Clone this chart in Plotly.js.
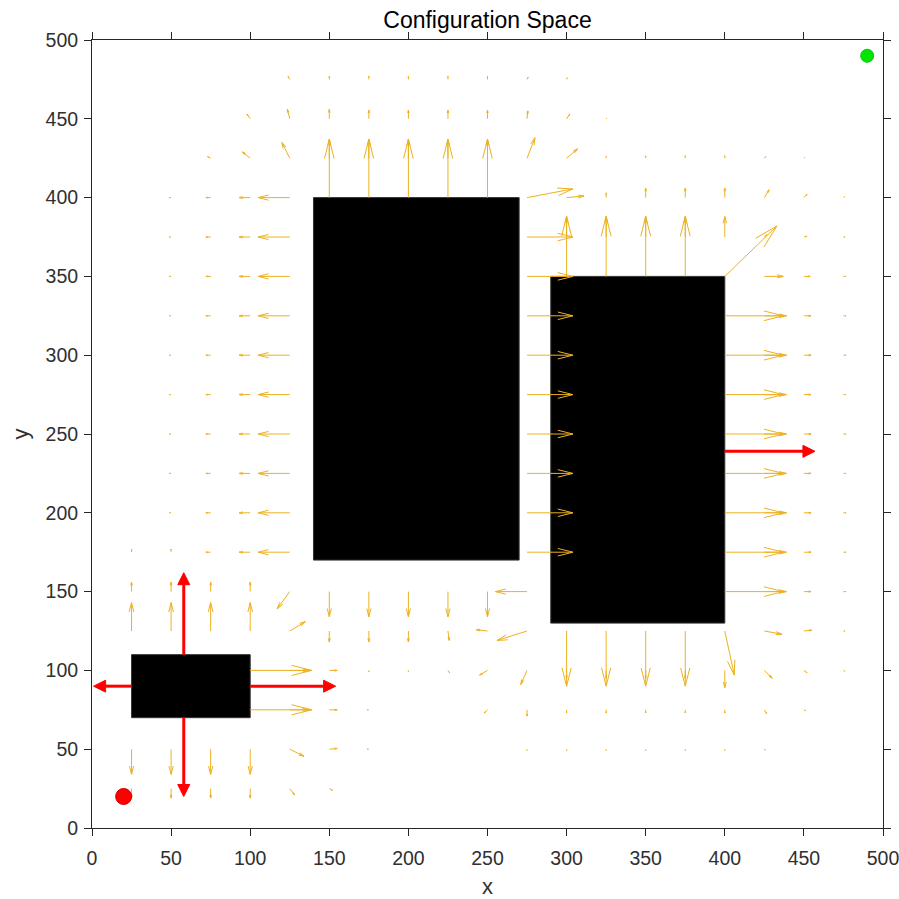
<!DOCTYPE html>
<html><head><meta charset="utf-8">
<script src="https://cdn.plot.ly/plotly-3.0.1.min.js"></script>
<style>html,body{margin:0;padding:0;background:#fff;}#chart{width:899px;height:899px;}</style>
</head><body><div id="chart"></div>
<script>
// ---- quiver field: [x, y, u, v] ----
const fieldLeftOfBlock2 = [
 [50,400,-1,0],[75,400,-3,0],[100,400,-7,0],[125,400,-20,0],
 [50,375,-1,0],[75,375,-3,0],[100,375,-7,0],[125,375,-20,0],
 [50,350,-1,0],[75,350,-3,0],[100,350,-7,0],[125,350,-20,0],
 [50,325,-1,0],[75,325,-3,0],[100,325,-7,0],[125,325,-20,0],
 [50,300,-1,0],[75,300,-3,0],[100,300,-7,0],[125,300,-20,0],
 [50,275,-1,0],[75,275,-3,0],[100,275,-7,0],[125,275,-20,0],
 [50,250,-1,0],[75,250,-3,0],[100,250,-7,0],[125,250,-20,0],
 [50,225,-1,0],[75,225,-3,0],[100,225,-7,0],[125,225,-20,0],
 [50,200,-1,0],[75,200,-3,0],[100,200,-7,0],[125,200,-20,0],
 [25,175,0,2],[50,175,0,2],[75,175,-3,0],[100,175,-7,0],[125,175,-20,0]
];
const fieldAboveBlock2 = [
 [150,400,0,37],[175,400,0,37],[200,400,0,37],[225,400,0,37],[250,400,0,37],
 [150,425,0,12],[175,425,0,12],[200,425,0,12],[225,425,0,12],[250,425,0,12],
 [150,450,0,6],[175,450,0,5.5],[200,450,0,5.5],[225,450,0,5.5],[250,450,0,5.5],
 [150,475,0,2],[175,475,0,2],[200,475,0,2],[225,475,0,2],[250,475,0,2],
 [75,425,-2,1],[100,425,-5,4],[125,425,-5,10],
 [100,450,-2,3],[125,450,-1.5,6],[125,475,-1,2],
 [275,400,29,5.5],[275,425,5,13],[275,450,0.5,5],[275,475,0.8,1.5],
 [300,400,11,1],[300,425,7,6],[300,450,2,3],[300,475,0.5,1],
 [325,400,0,3],[325,425,0,1.2],[325,450,0.5,0.5]
];
const fieldBetweenBlocks = [
 [275,375,29,0],[275,350,29,0],[275,325,29,0],[275,300,29,0],[275,275,29,0],
 [275,250,29,0],[275,225,29,0],[275,200,29,0],[275,175,29,0],[275,150,-20,0]
];
const fieldAboveBlock3 = [
 [300,350,0,38],[325,350,0,38],[350,350,0,38],[375,350,0,38],
 [300,375,0,13],[325,375,0,13],[350,375,0,13],[375,375,0,13],[400,375,0,13],
 [350,400,0,6],[375,400,0,6],[400,400,0,6],[425,400,3,5],[450,400,2,2],[475,400,0.8,0.8],
 [350,425,0,1.5],[375,425,0,1.5],[400,425,0,1.5],[425,425,0.8,1],[450,425,0.5,0.5],
 [425,375,1.5,1.5],[450,375,2,0.5],[475,375,1,0],
 [400,350,33,32],[425,350,12,0],[450,350,4,0],[475,350,1.5,0]
];
const fieldRightOfBlock3 = [
 [400,325,37,0],[425,325,14,0],[450,325,4.5,0],[475,325,1.5,0],
 [400,300,37,0],[425,300,14,0],[450,300,4.5,0],[475,300,1.5,0],
 [400,275,37,0],[425,275,14,0],[450,275,4.5,0],[475,275,1.5,0],
 [400,250,37,0],[425,250,14,0],[450,250,4.5,0],[475,250,1.5,0],
 [400,225,37,0],[425,225,14,0],[450,225,4.5,0],[475,225,1.5,0],
 [400,200,37,0],[425,200,14,0],[450,200,4.5,0],[475,200,1.5,0],
 [400,175,37,0],[425,175,14,0],[450,175,4.5,0],[475,175,1.5,0],
 [400,150,37,0],[425,150,14,0],[450,150,4.5,0],[475,150,1.5,0]
];
const fieldBelowBlock3 = [
 [300,125,0,-35],[325,125,0,-35],[350,125,0,-35],[375,125,0,-35],
 [300,100,0,-5],[325,100,0,-5],[350,100,0,-5],[375,100,0,-5],
 [400,125,6,-28],[400,100,0,-11],[425,125,11,-2],[450,125,5,0.5],[475,125,1,0],
 [425,100,5,-5],[450,100,2,-1.5],[475,100,0.8,-0.5],
 [300,75,0,-2],[325,75,0,-2],[350,75,0,-2],[375,75,0,-2],[400,75,0,-2],[425,75,1.5,-2.5],[450,75,1,-0.5],
 [275,50,0,-0.8],[300,50,0,-0.8],[325,50,0,-0.8],[350,50,0,-0.8],[375,50,0,-0.8],[400,50,0,-0.8],[425,50,0.8,-0.5]
];
const fieldBelowBlock2 = [
 [150,150,0,-16],[175,150,0,-16],[200,150,0,-16],[225,150,0,-16],[250,150,0,-16],
 [150,125,0,-7],[175,125,0,-7],[200,125,0,-7],[225,125,0.8,-6],[250,125,-7,0.8],[275,125,-19,-6],
 [175,100,0,-1],[200,100,0,-1],[225,100,1,-1.5],[250,100,-5,-3],[275,100,-4,-9],
 [175,75,-1,0],[250,75,-2,-2],[275,75,0,-4],
 [175,50,-1,0]
];
const fieldAroundBlock1 = [
 [25,150,0,6],[50,150,0,6],[75,150,0,6],[100,150,0,6],[125,150,-8,-11],
 [25,125,0,18],[50,125,0,18],[75,125,0,18],[100,125,0,18],[125,125,10,6],
 [100,100,39,0],[125,100,12,0],[150,100,5,0],
 [100,75,39,0],[125,75,12,0],[150,75,5,0],
 [25,50,0,-16],[50,50,0,-16],[75,50,0,-16],[100,50,0,-16],[125,50,9,-4.5],[150,50,5,0.5],
 [25,25,0,-6],[50,25,0,-6],[75,25,0,-6],[100,25,0,-6],[125,25,3,-4],[150,25,2,-1]
];

// ---- obstacles (rectangles) ----
const obsX0 = [25, 140, 290];
const obsX1 = [100, 270, 400];
const obsY0 = [70, 170, 130];
const obsY1 = [110, 400, 350];

// ---- red force arrows: tail -> tip ----
const redTailX = [25, 100, 58, 58, 400];
const redTailY = [90, 90, 110, 70, 239];
const redTipX  = [1, 154, 58, 58, 457];
const redTipY  = [90, 90, 162, 20, 239];

// ---- start / goal ----
const startX = [20], startY = [20];
const goalX = [490], goalY = [490];

// ---------------------------------------------------------------
const field = [].concat(fieldLeftOfBlock2, fieldAboveBlock2, fieldBetweenBlocks,
  fieldAboveBlock3, fieldRightOfBlock3, fieldBelowBlock3, fieldBelowBlock2, fieldAroundBlock1);

const alpha = 0.33, beta = 0.25;
const lx = [], ly = [];
field.forEach(([x, y, u, v]) => {
  const x1 = x + u, y1 = y + v;
  lx.push(x, x1, null);
  ly.push(y, y1, null);
  lx.push(x1 - alpha * (u + beta * v), x1, x1 - alpha * (u - beta * v), null);
  ly.push(y1 - alpha * (v - beta * u), y1, y1 - alpha * (v + beta * u), null);
});

const traces = [{
  type: 'scatter', mode: 'lines', x: lx, y: ly,
  line: {color: 'rgb(237,177,32)', width: 1}, hoverinfo: 'skip', connectgaps: false
}];

// red arrows: shaft + filled head
const headLen = 7.6, headHalf = 3.8;
redTailX.forEach((_, i) => {
  const x0 = redTailX[i], y0 = redTailY[i], x1 = redTipX[i], y1 = redTipY[i];
  const dx = x1 - x0, dy = y1 - y0, L = Math.hypot(dx, dy);
  const ux = dx / L, uy = dy / L;
  const bx = x1 - ux * headLen, by = y1 - uy * headLen;
  traces.push({type: 'scatter', mode: 'lines', x: [x0, bx], y: [y0, by],
    line: {color: '#ff0000', width: 3}, hoverinfo: 'skip'});
  traces.push({type: 'scatter', mode: 'lines', fill: 'toself', fillcolor: '#ff0000',
    x: [x1, bx - uy * headHalf, bx + uy * headHalf, x1],
    y: [y1, by + ux * headHalf, by - ux * headHalf, y1],
    line: {color: '#ff0000', width: 1}, hoverinfo: 'skip'});
});

traces.push({type: 'scatter', mode: 'markers', x: startX, y: startY,
  marker: {size: 16, color: '#ff0000', line: {color: '#d00000', width: 1}}, hoverinfo: 'skip'});
traces.push({type: 'scatter', mode: 'markers', x: goalX, y: goalY,
  marker: {size: 13, color: '#00e600', line: {color: '#00c800', width: 1}}, hoverinfo: 'skip'});

const shapes = obsX0.map((_, i) => ({
  type: 'rect', xref: 'x', yref: 'y', x0: obsX0[i], x1: obsX1[i], y0: obsY0[i], y1: obsY1[i],
  fillcolor: '#000000', line: {color: '#333333', width: 1}, layer: 'below'
}));

const tickVals = [0, 50, 100, 150, 200, 250, 300, 350, 400, 450, 500];
const font = 'Liberation Sans, Arial, Helvetica, sans-serif';
const axisCommon = {
  range: [0, 500], tickvals: tickVals, ticks: 'outside', ticklen: 7, tickwidth: 1,
  tickcolor: '#262626', showline: true, linecolor: '#262626', linewidth: 1, mirror: 'ticks',
  showgrid: false, zeroline: false, fixedrange: true, ticklabeloverflow: 'allow',
  tickfont: {family: font, size: 19.5, color: '#303030'}
};

const layout = {
  width: 899, height: 899,
  margin: {l: 92, r: 16, t: 40, b: 71},
  paper_bgcolor: '#ffffff', plot_bgcolor: '#ffffff',
  showlegend: false,
  font: {family: font},
  title: {text: 'Configuration Space', font: {family: font, size: 23, color: '#000000'},
    xref: 'paper', x: 0.5, xanchor: 'center', yref: 'container', y: 1 - 20 / 899, yanchor: 'middle'},
  xaxis: Object.assign({}, axisCommon, {ticklabelstandoff: 6,
    title: {text: 'x', font: {family: font, size: 22, color: '#303030'}, standoff: 10}}),
  yaxis: Object.assign({}, axisCommon, {ticklabelstandoff: 2,
    title: {text: 'y', font: {family: font, size: 22, color: '#303030'}, standoff: 10}}),
  shapes: shapes
};

Plotly.newPlot('chart', traces, layout, {displayModeBar: false, staticPlot: true});
</script></body></html>
